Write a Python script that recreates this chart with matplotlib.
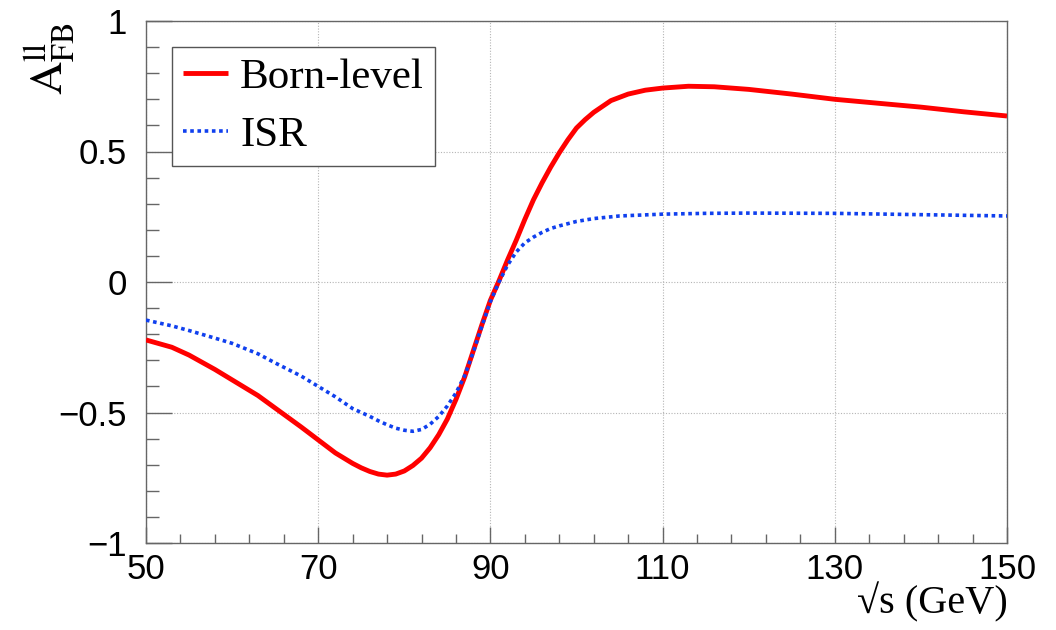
import matplotlib
matplotlib.use("Agg")
import matplotlib.pyplot as plt
from matplotlib.ticker import MultipleLocator, FuncFormatter

# sqrt(s) in GeV and forward-backward asymmetry
sqrt_s_born = [50, 53, 55, 58, 60, 63, 65, 68, 70, 72, 74, 75, 76, 77, 78, 79, 80, 81,
               82, 83, 84, 85, 86, 87, 88, 89, 90, 91, 92, 93, 94, 95, 96, 97, 98, 99,
               100, 101, 102, 104, 106, 108, 110, 113, 116, 120, 125, 130, 135, 140,
               145, 150]
afb_born = [-0.222, -0.250, -0.280, -0.335, -0.375, -0.435, -0.483, -0.555, -0.605,
            -0.655, -0.695, -0.712, -0.726, -0.736, -0.740, -0.736, -0.724, -0.703,
            -0.675, -0.635, -0.585, -0.525, -0.450, -0.365, -0.265, -0.165, -0.070,
            0.005, 0.085, 0.160, 0.240, 0.315, 0.380, 0.440, 0.495, 0.545, 0.590,
            0.622, 0.650, 0.695, 0.720, 0.735, 0.743, 0.750, 0.748, 0.738, 0.720,
            0.700, 0.685, 0.670, 0.652, 0.636]

sqrt_s_isr = [50, 53, 55, 58, 60, 63, 65, 68, 70, 72, 74, 76, 77, 78, 79, 80, 81, 82,
              83, 84, 85, 86, 87, 88, 89, 90, 91, 92, 93, 94, 95, 96, 97, 98, 100, 102,
              105, 110, 115, 120, 130, 140, 150]
afb_isr = [-0.146, -0.168, -0.186, -0.215, -0.235, -0.275, -0.310, -0.360, -0.400,
           -0.440, -0.485, -0.515, -0.532, -0.547, -0.560, -0.568, -0.572, -0.565,
           -0.545, -0.515, -0.475, -0.425, -0.360, -0.270, -0.170, -0.075, 0.000,
           0.065, 0.115, 0.150, 0.172, 0.190, 0.205, 0.215, 0.232, 0.243, 0.253,
           0.260, 0.263, 0.264, 0.263, 0.258, 0.253]

plt.rcParams['mathtext.fontset'] = 'stix'
sans = ['Liberation Sans', 'DejaVu Sans']
serif = ['Liberation Serif', 'DejaVu Serif']

W, H = 1056, 630
fig = plt.figure(figsize=(W / 100, H / 100), dpi=100)
ax = fig.add_axes([146 / W, 1 - 543 / H, (1007 - 146) / W, (543 - 21) / H])

ax.plot(sqrt_s_born, afb_born, color='#ff0000', lw=3.5, label='Born-level',
        solid_capstyle='butt', solid_joinstyle='round', zorder=3)
ax.plot(sqrt_s_isr, afb_isr, color='#1040ee', lw=2.6, linestyle=(0, (1, 1)),
        label='ISR', zorder=3)

ax.set_xlim(50, 150)
ax.set_ylim(-1, 1)
ax.xaxis.set_major_locator(MultipleLocator(20, offset=10))
ax.xaxis.set_minor_locator(MultipleLocator(4, offset=2))
ax.yaxis.set_major_locator(MultipleLocator(0.5))
ax.yaxis.set_minor_locator(MultipleLocator(0.1))
fmt = FuncFormatter(lambda v, p: f"{v:g}".replace('-', '\u2212'))
ax.xaxis.set_major_formatter(fmt)
ax.yaxis.set_major_formatter(fmt)

ax.grid(True, which='major', color='#b5b5b5', lw=0.8, linestyle=(0, (1, 1.5)))
for sp in ax.spines.values():
    sp.set_color('#666666')
    sp.set_linewidth(1.0)

ax.tick_params(axis='both', which='both', direction='in', top=False, right=False,
               color='#666666', width=1.0)
ax.tick_params(axis='y', which='major', length=18.5, pad=14)
ax.tick_params(axis='y', which='minor', length=9.3)
ax.tick_params(axis='x', which='major', length=11.5, pad=7)
ax.tick_params(axis='x', which='minor', length=6.5)
for lab in ax.get_xticklabels() + ax.get_yticklabels():
    lab.set_family(sans)
    lab.set_fontsize(25)

leg = ax.legend(loc='upper left', bbox_to_anchor=(172 / W, 1 - 47 / H),
                bbox_transform=fig.transFigure, borderaxespad=0,
                prop={'family': serif, 'size': 31}, handlelength=1.05,
                handletextpad=0.28, borderpad=0.25, labelspacing=0.45,
                fancybox=False, framealpha=1)
leg.get_frame().set_edgecolor('#555555')
leg.get_frame().set_linewidth(1.0)

fig.text(50 / W, 1 - 22 / H, r'$\mathrm{A}_{\mathrm{FB}}^{\mathrm{ll}}$', rotation=90,
         ha='center', va='top', fontsize=33)
fig.text(1008 / W, 1 - 613 / H, '\u221as (GeV)', ha='right', va='baseline',
         fontsize=29, family=serif)

fig.savefig('out.png', dpi=100)
